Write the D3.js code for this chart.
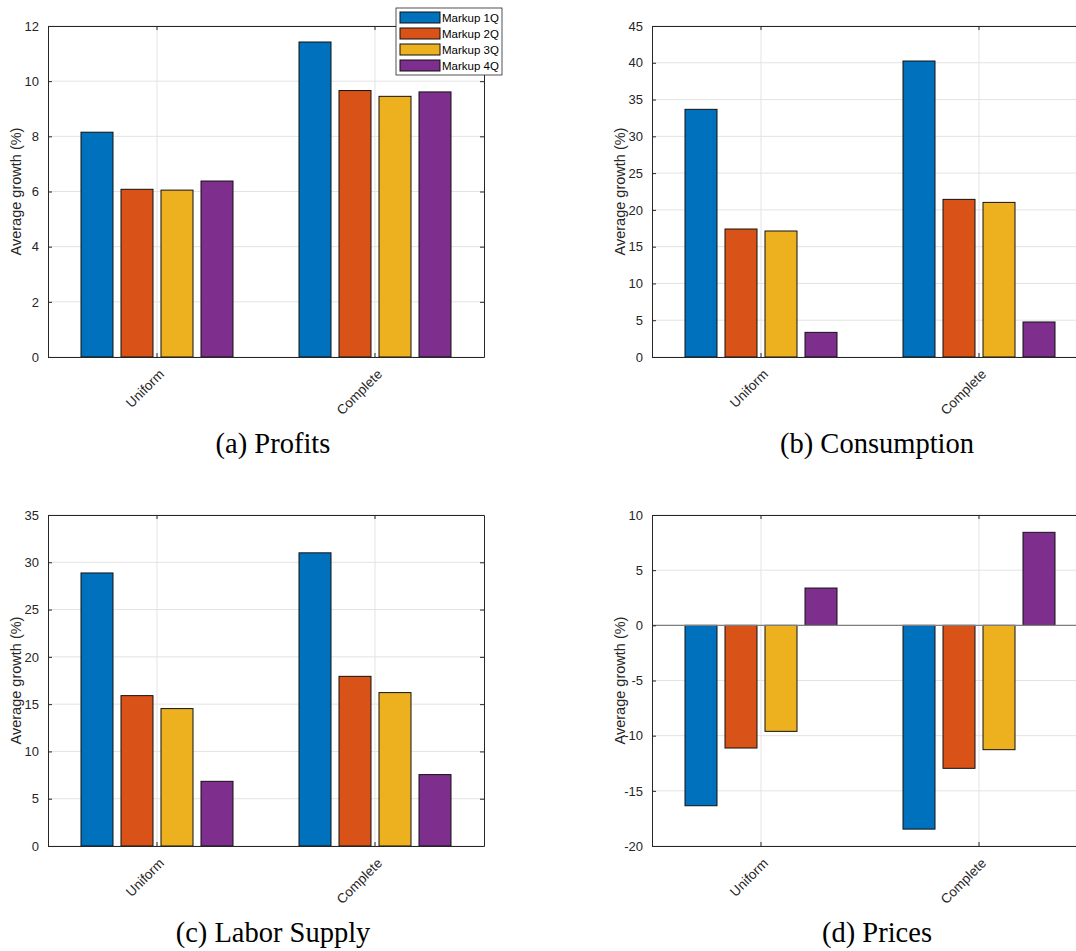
<!DOCTYPE html>
<html>
<head>
<meta charset="utf-8">
<script src="https://cdn.jsdelivr.net/npm/d3@7"></script>
<style>
html,body{margin:0;padding:0;background:#fff;}
svg{display:block;}
</style>
</head>
<body>
<svg id="chart" width="1076" height="951"></svg>
<script>
const categories = ["Uniform", "Complete"];
const series = ["Markup 1Q", "Markup 2Q", "Markup 3Q", "Markup 4Q"];
const colors = ["#0072BD", "#D95319", "#EDB120", "#7E2F8E"];

// values per category: [1Q, 2Q, 3Q, 4Q]
const profitsUniform = [8.15, 6.08, 6.05, 6.38];
const profitsComplete = [11.42, 9.66, 9.45, 9.61];
const consumptionUniform = [33.67, 17.4, 17.13, 3.35];
const consumptionComplete = [40.24, 21.43, 21.02, 4.76];
const laborUniform = [28.87, 15.9, 14.53, 6.84];
const laborComplete = [31.0, 17.94, 16.22, 7.55];
const pricesUniform = [-16.35, -11.12, -9.61, 3.38];
const pricesComplete = [-18.47, -12.96, -11.27, 8.43];

const ticksA = [0, 2, 4, 6, 8, 10, 12];
const ticksB = [0, 5, 10, 15, 20, 25, 30, 35, 40, 45];
const ticksC = [0, 5, 10, 15, 20, 25, 30, 35];
const ticksD = [-20, -15, -10, -5, 0, 5, 10];

const yLabel = "Average growth (%)";

const panels = [
  {cap: "(a) Profits", data: [profitsUniform, profitsComplete], ticks: ticksA, box: [48, 484, 26, 357], capY: 453, legend: true},
  {cap: "(b) Consumption", data: [consumptionUniform, consumptionComplete], ticks: ticksB, box: [652, 1088, 26, 357], capY: 453, capX: 877},
  {cap: "(c) Labor Supply", data: [laborUniform, laborComplete], ticks: ticksC, box: [48, 484, 515, 846], capY: 942},
  {cap: "(d) Prices", data: [pricesUniform, pricesComplete], ticks: ticksD, box: [652, 1088, 515, 846], capY: 942, capX: 877}
];

const svg = d3.select("#chart");
const axisColor = "#262626";
const gridColor = "#e3e3e3";
const fontSans = "'Liberation Sans', Arial, Helvetica, sans-serif";

panels.forEach(p => {
  const [L, R, T, B] = p.box;
  const g = svg.append("g");
  const x0 = d3.scaleBand().domain(categories).range([L, R]).paddingInner(0).paddingOuter(0);
  const bw = x0.bandwidth();
  const x1 = d3.scaleBand().domain(series).range([bw / 2 - 80, bw / 2 + 80]).paddingInner(0.2).paddingOuter(0.1);
  const y = d3.scaleLinear().domain([p.ticks[0], p.ticks[p.ticks.length - 1]]).range([B, T]);

  // grid
  g.append("g").selectAll("line").data(p.ticks).join("line")
    .attr("x1", L).attr("x2", R).attr("y1", d => y(d)).attr("y2", d => y(d))
    .attr("stroke", gridColor).attr("stroke-width", 1);
  g.append("g").selectAll("line").data(categories).join("line")
    .attr("x1", d => x0(d) + bw / 2).attr("x2", d => x0(d) + bw / 2)
    .attr("y1", T).attr("y2", B)
    .attr("stroke", gridColor).attr("stroke-width", 1);

  // bars
  const rows = [];
  categories.forEach((c, ci) => series.forEach((s, si) => rows.push({c, s, si, v: p.data[ci][si]})));
  g.append("g").selectAll("rect").data(rows).join("rect")
    .attr("x", d => x0(d.c) + x1(d.s))
    .attr("width", x1.bandwidth())
    .attr("y", d => Math.min(y(d.v), y(0)))
    .attr("height", d => Math.abs(y(d.v) - y(0)))
    .attr("fill", d => colors[d.si])
    .attr("stroke", "#111").attr("stroke-width", 1);

  // baseline for negative domains
  if (p.ticks[0] < 0) {
    g.append("line").attr("x1", L).attr("x2", R).attr("y1", y(0)).attr("y2", y(0))
      .attr("stroke", "#7f7f7f").attr("stroke-width", 1.3);
  }

  // axes (MATLAB style: box, inward ticks)
  const yAxL = d3.axisLeft(y).tickValues(p.ticks).tickSizeInner(-4).tickSizeOuter(0).tickPadding(9)
    .tickFormat(d => String(d));
  const yAxR = d3.axisRight(y).tickValues(p.ticks).tickSizeInner(-4).tickSizeOuter(0).tickFormat("");

  const gl = g.append("g").attr("transform", `translate(${L},0)`).call(yAxL);
  gl.selectAll("text").attr("font-family", fontSans).attr("font-size", 13).attr("fill", axisColor);
  const gr = g.append("g").attr("transform", `translate(${R},0)`).call(yAxR);
  [gl, gr].forEach(a => {
    a.select(".domain").attr("stroke", axisColor).attr("stroke-width", 1);
    a.selectAll(".tick line").attr("stroke", axisColor);
  });

  // bottom & top axes via band scale
  const xAxB = d3.axisBottom(x0).tickSizeInner(-4).tickSizeOuter(0).tickFormat("");
  const xAxT = d3.axisTop(x0).tickSizeInner(-4).tickSizeOuter(0).tickFormat("");
  const gb = g.append("g").attr("transform", `translate(0,${B})`).call(xAxB);
  const gt = g.append("g").attr("transform", `translate(0,${T})`).call(xAxT);
  [gb, gt].forEach(a => {
    a.select(".domain").attr("stroke", axisColor).attr("stroke-width", 1);
    a.selectAll(".tick line").attr("stroke", axisColor);
  });

  // category labels rotated
  g.append("g").selectAll("text").data(categories).join("text")
    .attr("transform", d => `translate(${x0(d) + bw / 2 + 8},${B + 18}) rotate(-45)`)
    .attr("text-anchor", "end")
    .attr("font-family", fontSans).attr("font-size", 13.5).attr("fill", axisColor)
    .text(d => d);

  // y label
  g.append("text")
    .attr("transform", `translate(${L - 27},${(T + B) / 2}) rotate(-90)`)
    .attr("text-anchor", "middle")
    .attr("font-family", fontSans).attr("font-size", 14.5).attr("fill", axisColor)
    .text(yLabel);

  // caption
  g.append("text")
    .attr("x", p.capX || 273).attr("y", p.capY)
    .attr("text-anchor", "middle")
    .attr("font-family", "'Liberation Serif', 'Times New Roman', serif")
    .attr("font-size", 28.5).attr("fill", "#000")
    .text(p.cap);

  if (p.legend) {
    const lg = svg.append("g");
    const lx = 396, ly = 8, lw = 106, lh = 67;
    lg.append("rect").attr("x", lx).attr("y", ly).attr("width", lw).attr("height", lh)
      .attr("fill", "#fff").attr("stroke", axisColor).attr("stroke-width", 0.8);
    const ry = d3.scaleBand().domain(series).range([ly + 2, ly + lh - 1]);
    const items = lg.selectAll("g.item").data(series).join("g").attr("class", "item")
      .attr("transform", d => `translate(0,${ry(d)})`);
    items.append("rect").attr("x", lx + 4).attr("y", 2).attr("width", 40).attr("height", 11)
      .attr("fill", (d, i) => colors[i]).attr("stroke", "#111").attr("stroke-width", 1);
    items.append("text").attr("x", lx + 46).attr("y", 12)
      .attr("font-family", fontSans).attr("font-size", 11.5).attr("fill", "#000")
      .text(d => d);
  }
});
</script>
</body>
</html>
